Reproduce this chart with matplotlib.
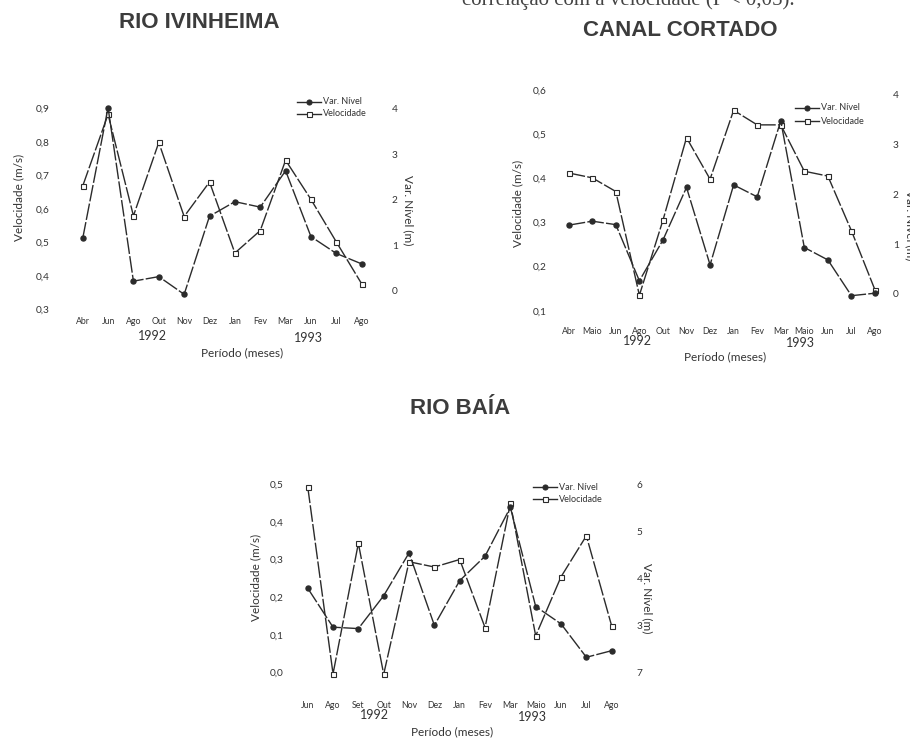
import matplotlib
matplotlib.use("Agg")
import matplotlib.pyplot as plt
from matplotlib.lines import Line2D

# ---------------- data ----------------
IVI_MONTHS = ["Abr", "Jun", "Ago", "Out", "Nov", "Dez", "Jan", "Fev", "Mar", "Jun", "Jul", "Ago"]
IVI_VEL = [0.668, 0.882, 0.579, 0.798, 0.577, 0.680, 0.468, 0.535, 0.745, 0.628, 0.501, 0.376]
IVI_NIVEL = [1.15, 4.03, 0.21, 0.31, -0.08, 1.64, 1.96, 1.84, 2.64, 1.19, 0.82, 0.59]
IVI_VEL_TICKS = [0.3, 0.4, 0.5, 0.6, 0.7, 0.8, 0.9]
IVI_NIVEL_TICKS = [0, 1, 2, 3, 4]

CAN_MONTHS = ["Abr", "Maio", "Jun", "Ago", "Out", "Nov", "Dez", "Jan", "Fev", "Mar",
              "Maio", "Jun", "Jul", "Ago"]
CAN_VEL = [0.412, 0.401, 0.370, 0.135, 0.305, 0.492, 0.398, 0.554, 0.521, 0.521,
           0.416, 0.405, 0.281, 0.147]
CAN_NIVEL = [1.38, 1.46, 1.39, 0.26, 1.08, 2.14, 0.58, 2.19, 1.95, 3.48,
             0.93, 0.68, -0.04, 0.01]
CAN_VEL_TICKS = [0.1, 0.2, 0.3, 0.4, 0.5, 0.6]
CAN_NIVEL_TICKS = [0, 1, 2, 3, 4]

BAI_MONTHS = ["Jun", "Ago", "Set", "Out", "Nov", "Dez", "Jan", "Fev", "Mar", "Maio",
              "Jun", "Jul", "Ago"]
BAI_VEL = [0.494, -0.004, 0.343, -0.005, 0.294, 0.280, 0.300, 0.119, 0.449, 0.097,
           0.254, 0.363, 0.123]
BAI_NIVEL = [3.79, 2.96, 2.93, 3.63, 4.54, 3.00, 3.95, 4.47, 5.51, 3.40, 3.03, 2.32, 2.46]
BAI_VEL_TICKS = [0.0, 0.1, 0.2, 0.3, 0.4, 0.5]
BAI_NIVEL_TICKS = [2, 3, 4, 5, 6]
BAI_NIVEL_LABELS = ["7", "3", "4", "5", "6"]

# ---------------- figure ----------------
W, H = 910, 739
fig = plt.figure(figsize=(W / 100, H / 100), dpi=100)
fig.patch.set_facecolor("white")

INK = "#2b2b2b"
TXT = "#333333"
SANS = ["Lato", "DejaVu Sans"]
LS = (0, (12, 1.6))
MS = 3.6


def fx(x):
    return x / W


def fy(y):
    return 1 - y / H


def ftext(x, y, s, **kw):
    kw.setdefault("ha", "center")
    kw.setdefault("va", "center")
    kw.setdefault("color", TXT)
    kw.setdefault("family", SANS)
    fig.text(fx(x), fy(y), s, **kw)


def dec(v):
    return f"{v:.1f}".replace(".", ",")


def calib_lim(box_top, box_bottom, va, ya, vb, yb):
    per_px = (vb - va) / (ya - yb)
    lo = va - (box_bottom - ya) * per_px
    hi = va + (ya - box_top) * per_px
    return lo, hi


def strip(ax):
    for s in ax.spines.values():
        s.set_visible(False)
    ax.patch.set_alpha(0)
    ax.tick_params(length=0, colors=TXT)


def legend(x0, y1, y2):
    x1 = x0 + 24
    xm = (x0 + x1) / 2
    for yy, mk, fc in ((y1, "o", INK), (y2, "s", "white")):
        fig.add_artist(Line2D([fx(x0), fx(xm), fx(x1)], [fy(yy)] * 3, color=INK, lw=1.0,
                              marker=mk, markevery=[1], ms=MS, mfc=fc, mec=INK, mew=0.8))
    ftext(x1 + 2, y1, "Var. Nível", ha="left", fontsize=6.5)
    ftext(x1 + 2, y2, "Velocidade", ha="left", fontsize=6.5)


def panel(months, vel, nivel, vticks, nticks, nlabels, box, ncal, lpad, rpad, mpad):
    left, right, top, bottom = box
    ax = fig.add_axes([fx(left), fy(bottom), fx(right) - fx(left), (bottom - top) / H])
    ax.set_xlim(0, len(months) - 1)
    ax.set_ylim(vticks[0], vticks[-1])
    strip(ax)
    ax.set_xticks(range(len(months)), months, fontsize=6.3, family=SANS)
    ax.set_yticks(vticks, [dec(v) for v in vticks], fontsize=7.3, family=SANS)
    ax.tick_params(axis="y", pad=lpad * 0.72)
    ax.tick_params(axis="x", pad=mpad * 0.72)

    ax2 = ax.twinx()
    ax2.set_ylim(*calib_lim(top, bottom, *ncal))
    strip(ax2)
    ax2.set_yticks(nticks, nlabels, fontsize=7.3, family=SANS)
    ax2.tick_params(axis="y", pad=rpad * 0.72)

    x = range(len(months))
    ax.plot(x, vel, color=INK, lw=1.0, ls=LS, marker="s", ms=MS, mfc="white",
            mec=INK, mew=0.8, clip_on=False, zorder=3)
    ax2.plot(x, nivel, color=INK, lw=1.0, ls=LS, marker="o", ms=MS, mfc=INK,
             mec=INK, clip_on=False, zorder=3)
    return ax


# caption line running off the top edge of the page
fig.text(fx(795), fy(5), "correlação com a velocidade (P < 0,05).", ha="right",
         va="baseline", family=["Liberation Serif"], fontsize=15, color="#444444")

TITLE = dict(family=["Liberation Sans", "DejaVu Sans"], fontweight="bold",
             fontsize=16, color="#3c3c3c")
ftext(199, 23, "RIO IVINHEIMA", **TITLE)
ftext(680, 31, "CANAL CORTADO", **TITLE)
ftext(460, 409, "RIO BAÍA", **TITLE)

LAB = 8.5
YEAR = 9

# Rio Ivinheima
panel(IVI_MONTHS, IVI_VEL, IVI_NIVEL, IVI_VEL_TICKS, IVI_NIVEL_TICKS,
      [str(t) for t in IVI_NIVEL_TICKS], (82.7, 361.7, 108.3, 309.3),
      (0, 290.7, 4, 109.0), 32.7, 30, 8)
ftext(19, 197, "Velocidade (m/s)", rotation=90, fontsize=LAB)
ftext(408, 210, "Var. Nível (m)", rotation=270, fontsize=LAB)
ftext(152, 336, "1992", fontsize=YEAR)
ftext(308, 338, "1993", fontsize=YEAR)
ftext(242, 353, "Período (meses)", fontsize=LAB)
legend(297, 102, 114)

# Canal Cortado
panel(CAN_MONTHS, CAN_VEL, CAN_NIVEL, CAN_VEL_TICKS, CAN_NIVEL_TICKS,
      [str(t) for t in CAN_NIVEL_TICKS], (568.7, 875.0, 90.0, 310.7),
      (0, 293.7, 4, 95.0), 21.7, 17.7, 16)
ftext(518, 203, "Velocidade (m/s)", rotation=90, fontsize=LAB)
ftext(910, 225, "Var. Nível (m)", rotation=270, fontsize=LAB)
ftext(637, 341, "1992", fontsize=YEAR)
ftext(800, 343, "1993", fontsize=YEAR)
ftext(725, 357, "Período (meses)", fontsize=LAB)
legend(795, 108, 121)

# Rio Baía
panel(BAI_MONTHS, BAI_VEL, BAI_NIVEL, BAI_VEL_TICKS, BAI_NIVEL_TICKS,
      BAI_NIVEL_LABELS, (307.7, 611.7, 484.3, 672.3),
      (3, 636.0, 6, 471.7), 24, 25, 29)
ftext(256, 577, "Velocidade (m/s)", rotation=90, fontsize=LAB)
ftext(647, 598, "Var. Nível (m)", rotation=270, fontsize=LAB)
ftext(374, 715, "1992", fontsize=YEAR)
ftext(532, 717, "1993", fontsize=YEAR)
ftext(452, 732, "Período (meses)", fontsize=LAB)
legend(533, 487, 499)

fig.savefig("out.png", dpi=100, facecolor="white")
